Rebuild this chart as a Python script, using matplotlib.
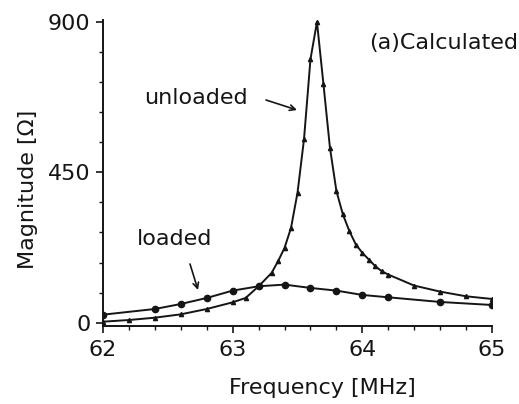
import matplotlib
matplotlib.use("Agg")
import matplotlib.pyplot as plt
from matplotlib.ticker import MultipleLocator

plt.rcParams['font.family'] = ['DejaVu Sans']

unloaded_f = [62.0, 62.2, 62.4, 62.6, 62.8, 63.0, 63.1, 63.2, 63.3, 63.35, 63.4, 63.45,
              63.5, 63.55, 63.6, 63.65, 63.7, 63.75, 63.8, 63.85, 63.9, 63.95, 64.0,
              64.05, 64.1, 64.15, 64.2, 64.4, 64.6, 64.8, 65.0]
unloaded_mag = [3, 8, 15, 25, 41, 61, 74, 109, 149, 184, 224, 284,
                389, 549, 789, 900, 714, 524, 394, 324, 274, 234, 209,
                189, 169, 154, 144, 111, 93, 79, 71]

loaded_f = [62.0, 62.4, 62.6, 62.8, 63.0, 63.2, 63.4, 63.6, 63.8, 64.0, 64.2, 64.6, 65.0]
loaded_mag = [24, 41, 56, 74, 96, 109, 114, 104, 96, 83, 76, 62, 53]

xticks = [62, 63, 64, 65]
yticks = [0, 450, 900]

INK = '#151515'
FS = 16

fig = plt.figure(figsize=(5.19, 4.04), dpi=100)
ax = fig.add_axes([0.1985, 0.193, 0.7495, 0.7575])

ax.plot(unloaded_f, unloaded_mag, color=INK, lw=1.4, marker='^', ms=3)
ax.plot(loaded_f, loaded_mag, color=INK, lw=1.4, marker='o', ms=4.5)

ax.set_xlim(62, 65)
ax.set_ylim(-10, 906)
ax.set_xticks(xticks)
ax.set_yticks(yticks)
ax.xaxis.set_minor_locator(MultipleLocator(0.2))
ax.yaxis.set_minor_locator(MultipleLocator(90))
for s in ['top', 'right']:
    ax.spines[s].set_visible(False)
for s in ['left', 'bottom']:
    ax.spines[s].set_linewidth(1.4)
    ax.spines[s].set_color(INK)
ax.tick_params(which='major', direction='out', length=5, width=1.2, labelsize=FS, colors=INK)
ax.tick_params(which='minor', direction='out', length=3, width=1.0, colors=INK)
ax.tick_params(axis='x', pad=5)
ax.tick_params(axis='y', pad=4)

ax.set_xlabel('Frequency [MHz]', fontsize=FS, color=INK)
ax.set_ylabel('Magnitude [Ω]', fontsize=FS, color=INK)
ax.xaxis.set_label_coords(0.563, -0.17)
ax.yaxis.set_label_coords(-0.167, 0.448)

fig.text(518 / 519, 1 - 43 / 404, '(a)Calculated', ha='right', va='center',
         fontsize=FS, color=INK)
fig.text(196 / 519, 1 - 98 / 404, 'unloaded', ha='center', va='center',
         fontsize=FS, color=INK)
fig.text(175 / 519, 1 - 239 / 404, 'loaded', ha='center', va='center',
         fontsize=FS, color=INK)

arrow = dict(arrowstyle='->', color=INK, lw=1.2, shrinkA=0, shrinkB=0)
ax.annotate('', xy=(297, 404 - 110), xycoords='figure pixels',
            xytext=(266, 404 - 100), textcoords='figure pixels', arrowprops=arrow)
ax.annotate('', xy=(198, 404 - 290), xycoords='figure pixels',
            xytext=(190, 404 - 264), textcoords='figure pixels', arrowprops=arrow)

fig.savefig('out.png', dpi=100)
